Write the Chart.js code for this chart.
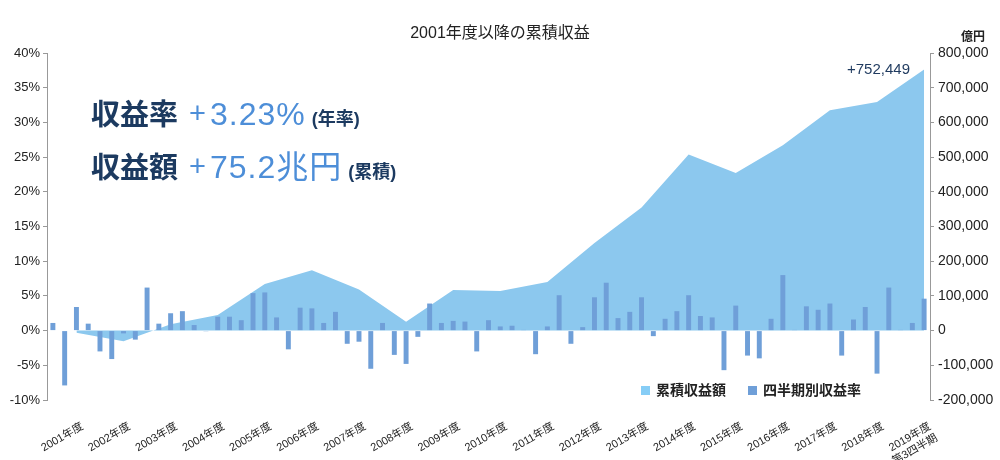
<!DOCTYPE html>
<html lang="ja">
<head>
    <meta charset="UTF-8">
    <title>2001年度以降の累積収益</title>
    <script src="https://cdn.jsdelivr.net/npm/chart.js"></script>
    <style>
        body {
            margin: 0;
            background: #fff;
            font-family: 'Liberation Sans', 'Noto Sans CJK JP', sans-serif;
        }

        .wrap {
            position: relative;
            width: 1000px;
            height: 460px;
        }

        canvas {
            position: absolute;
            left: 0;
            top: 0;
        }

        .title {
            position: absolute;
            top: 19px;
            left: 0;
            width: 1000px;
            text-align: center;
            font-size: 16px;
            color: #222;
        }

        .unit {
            position: absolute;
            left: 961px;
            top: 27px;
            font-size: 12px;
            font-weight: bold;
            color: #222;
        }

        .last {
            position: absolute;
            left: 847px;
            top: 60px;
            font-size: 15px;
            color: #1f3a5f;
        }

        .big {
            position: absolute;
            left: 91px;
            white-space: nowrap;
            color: #1c3a60;
        }

        .big .k { font-size: 29px; font-weight: bold; }
        .big .p { font-size: 29px; color: #4d8ed8; margin-left: 11px; position: relative; top: -2px; }
        .big .v { font-size: 32px; color: #4d8ed8; margin-left: 4px; letter-spacing: 1px; }
        .big .n { font-size: 18px; font-weight: bold; margin-left: 6px; }

        .legend {
            position: absolute;
            left: 641px;
            top: 379px;
            font-size: 14px;
            font-weight: bold;
            color: #222;
            white-space: nowrap;
        }

        .legend span.box {
            display: inline-block;
            width: 9px;
            height: 9px;
            margin-right: 6px;
            vertical-align: 0px;
        }
    </style>
</head>
<body>

<div class="wrap">
    <canvas id="gpifChart" width="1000" height="460"></canvas>
    <div class="title">2001年度以降の累積収益</div>
    <div class="unit">億円</div>
    <div class="last">+752,449</div>
    <div class="big" style="top: 91px;">
        <span class="k">収益率</span><span class="p">+</span><span class="v">3.23%</span><span class="n">(年率)</span>
    </div>
    <div class="big" style="top: 141px;">
        <span class="k">収益額</span><span class="p">+</span><span class="v">75.2兆円</span><span class="n">(累積)</span>
    </div>
    <div class="legend">
        <span class="box" style="background:#86cdf6"></span>累積収益額
        <span class="box" style="background:#6f9fd8; margin-left: 18px"></span>四半期別収益率
    </div>
</div>

<script>
    // fiscal years shown on the x axis (one label per year)
    const yearLabels = [
        '2001年度', '2002年度', '2003年度', '2004年度', '2005年度', '2006年度',
        '2007年度', '2008年度', '2009年度', '2010年度', '2011年度', '2012年度',
        '2013年度', '2014年度', '2015年度', '2016年度', '2017年度', '2018年度',
        ['2019年度', '第3四半期']
    ];

    // quarterly return (%), 2001 Q1 .. 2019 Q3
    const quarterReturns = [
        1.1, -7.9, 3.4, 1.0,
        -3.0, -4.1, -0.4, -1.3,
        6.2, 1.0, 2.5, 2.8,
        0.8, -0.1, 2.0, 2.0,
        1.5, 5.4, 5.5, 1.9,
        -2.7, 3.3, 3.2, 1.1,
        2.7, -1.9, -1.6, -5.5,
        1.1, -3.5, -4.8, -0.9,
        3.9, 1.1, 1.4, 1.3,
        -3.0, 1.5, 0.6, 0.7,
        0.1, -3.4, 0.6, 5.1,
        -1.9, 0.5, 4.8, 6.9,
        1.8, 2.7, 4.8, -0.8,
        1.7, 2.8, 5.1, 2.1,
        1.9, -5.7, 3.6, -3.6,
        -4.0, 1.7, 8.0, 0.1,
        3.5, 3.0, 3.9, -3.6,
        1.6, 3.4, -6.2, 6.2,
        0.1, 1.1, 4.6
    ];

    // cumulative return per fiscal year (億円)
    const cumulativeReturns = [
        -5874, -30404, 18512, 44639, 134258, 173949, 118771, 25290, 117140,
        114141, 140233, 252455, 354662, 507584, 454486, 533849, 634659,
        658454, 752449
    ];

    // one slot per quarter; the yearly values sit on the 3rd slot of each year
    const labels = quarterReturns.map((v, i) => i % 4 === 2 ? yearLabels[(i - 2) / 4] : '');
    const areaData = quarterReturns.map((v, i) => i % 4 === 2 ? cumulativeReturns[(i - 2) / 4] : null);

    const tickFont = { family: "'Liberation Sans', 'Noto Sans CJK JP', sans-serif" };

    new Chart(document.getElementById('gpifChart'), {
        type: 'bar',
        data: {
            labels: labels,
            datasets: [
                {
                    label: '四半期別収益率',
                    data: quarterReturns,
                    backgroundColor: '#6f9fd8',
                    yAxisID: 'y',
                    barPercentage: 0.42,
                    categoryPercentage: 1,
                    order: 1
                },
                {
                    type: 'line',
                    label: '累積収益額',
                    data: areaData,
                    yAxisID: 'y2',
                    spanGaps: true,
                    fill: 'origin',
                    backgroundColor: '#8cc8ee',
                    borderColor: 'rgba(0,0,0,0)',
                    borderWidth: 0,
                    pointRadius: 0,
                    tension: 0,
                    order: 2
                }
            ]
        },
        options: {
            responsive: false,
            animation: false,
            layout: { padding: { top: 53 } },
            plugins: {
                legend: { display: false },
                tooltip: { enabled: false }
            },
            scales: {
                x: {
                    grid: { display: false, drawTicks: false },
                    border: { display: false },
                    ticks: {
                        autoSkip: false,
                        minRotation: 30,
                        maxRotation: 30,
                        padding: 20,
                        labelOffset: 6,
                        color: '#222',
                        font: { ...tickFont, size: 11 }
                    },
                    afterFit: s => { s.height = 60; }
                },
                y: {
                    position: 'left',
                    min: -10,
                    max: 40,
                    grid: { drawOnChartArea: false, tickLength: 4, color: '#999' },
                    border: { color: '#999' },
                    ticks: {
                        stepSize: 5,
                        padding: 3,
                        color: '#222',
                        font: { ...tickFont, size: 13 },
                        callback: v => v + '%'
                    },
                    afterFit: s => { s.width = 47; }
                },
                y2: {
                    position: 'right',
                    min: -200000,
                    max: 800000,
                    grid: { drawOnChartArea: false, tickLength: 4, color: '#999' },
                    border: { color: '#999' },
                    ticks: {
                        stepSize: 100000,
                        padding: 4,
                        color: '#222',
                        font: { ...tickFont, size: 14 },
                        callback: v => v.toLocaleString('en-US')
                    },
                    afterFit: s => { s.width = 70; }
                }
            }
        }
    });
</script>

</body>
</html>
